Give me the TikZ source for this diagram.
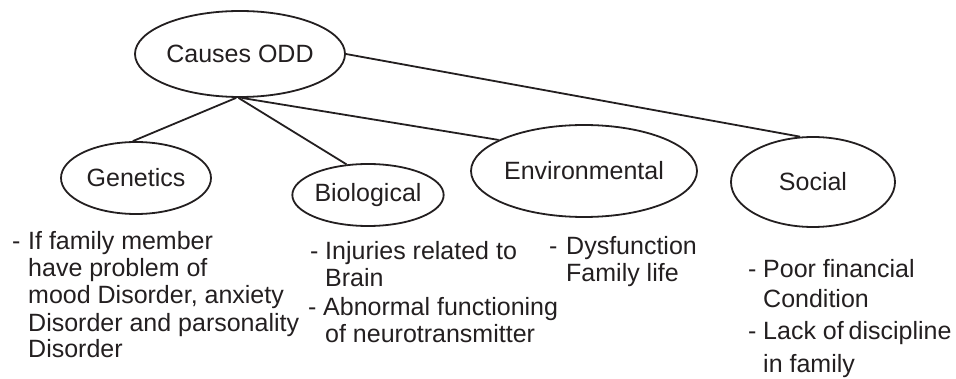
\documentclass[tikz,border=0pt]{standalone}
\usepackage{fontspec}
\setmainfont{Liberation Sans}
\usetikzlibrary{shapes.geometric}
\definecolor{ink}{HTML}{231F20}
\tikzset{
  oval/.style={ellipse, draw=ink, line width=1.8pt, inner sep=0pt, text=ink,
    font=\fontsize{25}{27}\selectfont},
  conn/.style={draw=ink, line width=1.8pt},
  txt/.style={anchor=base west, inner sep=0pt, text=ink, font=\fontsize{25}{27}\selectfont}
}
\begin{document}
\begin{tikzpicture}[x=1pt,y=-1pt]
\useasboundingbox (0,0) rectangle (956,379);
\node[oval, minimum width=210pt, minimum height=86pt] (causes) at (240,54) {Causes ODD};
\node[oval, minimum width=150pt, minimum height=72pt] (gen) at (136,178) {Genetics};
\node[oval, minimum width=132pt, minimum height=62pt] (bio) at (368,195) {Biological};
\node[oval, minimum width=200pt, minimum height=92pt] (env) at (584,171) {Environmental};
\node[oval, minimum width=164pt, minimum height=90pt] (soc) at (813,182) {Social};

\draw[conn] (causes.265) -- (gen.95);
\draw[conn] (causes.268) -- (bio.125);
\draw[conn] (causes.272) -- (env.160);
\draw[conn] (causes.east) -- (soc.106);

% Genetics text
\node[txt] (g1) at (12,250) {-};
\node[txt] (g1t) at (28,250) {If family member};
\node[txt] (g2) at (28,277) {have problem of};
\node[txt] (g3) at (28,304) {mood Disorder, anxiety};
\node[txt] (g4) at (28,331) {Disorder and parsonality};
\node[txt] (g5) at (28,358) {Disorder};

% Biological text
\node[txt] (b1) at (310,260) {-};
\node[txt] (b1t) at (325,260) {Injuries related to};
\node[txt] (b2) at (325,287) {Brain};
\node[txt] (b3) at (308,316) {-};
\node[txt] (b3t) at (323,316) {Abnormal functioning};
\node[txt] (b4) at (325,343) {of neurotransmitter};

% Environmental text
\node[txt] (e1) at (549,255) {-};
\node[txt] (e1t) at (566,255) {Dysfunction};
\node[txt] (e2) at (566,282) {Family life};

% Social text
\node[txt] (s1) at (748,278) {-};
\node[txt] (s1t) at (763,278) {Poor financial};
\node[txt] (s2) at (763,308) {Condition};
\node[txt] (s3) at (748,340) {-};
\node[txt] (s3t) at (763,340) {Lack of\hspace{-2pt} discipline};
\node[txt] (s4) at (763,372) {in family};
\end{tikzpicture}
\end{document}
